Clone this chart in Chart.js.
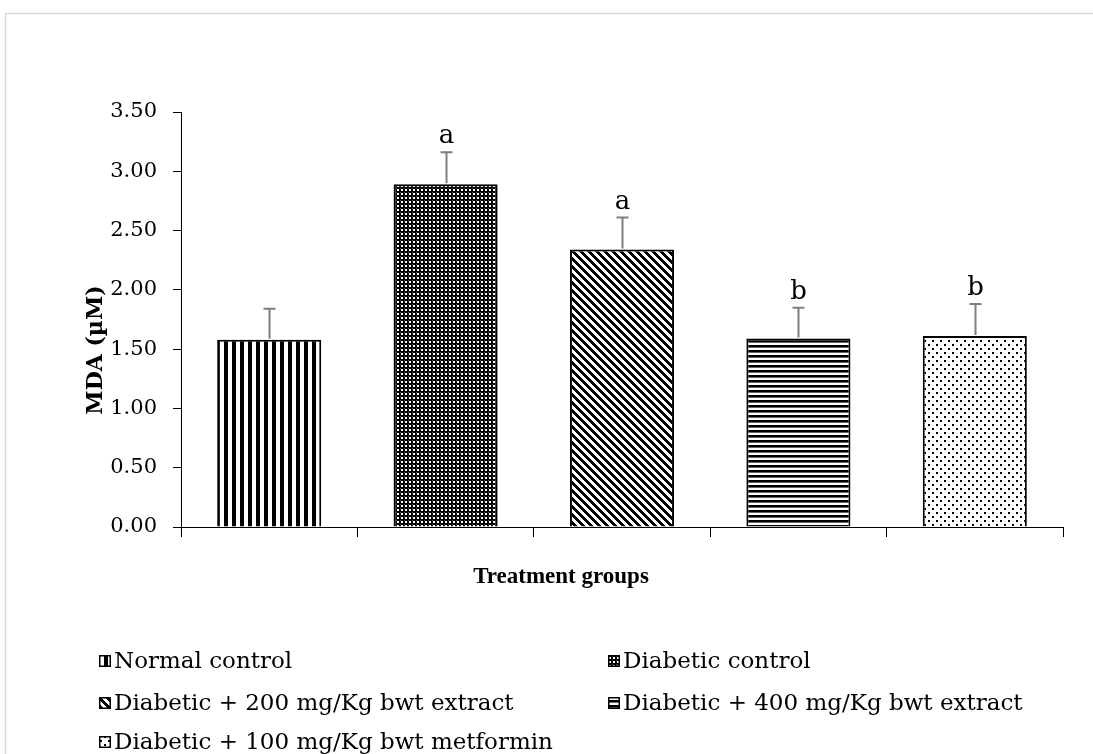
<!DOCTYPE html>
<html>
<head>
<meta charset="utf-8">
<script src="https://cdn.jsdelivr.net/npm/chart.js@4.4.0/dist/chart.umd.min.js"></script>
<style>
  html, body { margin: 0; padding: 0; background: #fff; }
  canvas { display: block; }
</style>
</head>
<body>
<canvas id="chart" width="1093" height="754"></canvas>
<script>
// Treatment groups and MDA readings (µM)
const groups = [
  'Normal control',
  'Diabetic control',
  'Diabetic + 200 mg/Kg bwt extract',
  'Diabetic + 400 mg/Kg bwt extract',
  'Diabetic + 100 mg/Kg bwt metformin'
];
const mdaMeans  = [1.58, 2.89, 2.34, 1.59, 1.61];
const mdaErrors = [0.26, 0.27, 0.27, 0.26, 0.27];
const sigLetters = ['', 'a', 'a', 'b', 'b'];
const yTicks = [0, 0.5, 1.0, 1.5, 2.0, 2.5, 3.0, 3.5];
const fillKinds = ['vertical', 'checker', 'diagonal', 'horizontal', 'dots'];

const SERIF = '"DejaVu Serif", "Liberation Serif", serif';

// Monochrome hatch fills
function makePattern(kind) {
  const c = document.createElement('canvas');
  const g = c.getContext('2d');
  let w = 8, h = 8;
  if (kind === 'vertical')   { w = 8; h = 1; }
  if (kind === 'checker')    { w = 4; h = 4; }
  if (kind === 'horizontal') { w = 1; h = 5; }
  c.width = w; c.height = h;
  g.fillStyle = '#fff';
  g.fillRect(0, 0, w, h);
  g.fillStyle = '#000';
  if (kind === 'vertical') {
    g.fillRect(0, 0, 4, 1);
  } else if (kind === 'checker') {
    g.fillRect(0, 0, 4, 4);
    g.fillStyle = '#fff';
    g.fillRect(1, 1, 2, 2);
    g.fillStyle = '#555';
    g.fillRect(0, 0, 1, 1);
  } else if (kind === 'diagonal') {
    for (let y = 0; y < h; y++)
      for (let x = 0; x < w; x++)
        if ((((x - y) % 8) + 8) % 8 < 4) g.fillRect(x, y, 1, 1);
  } else if (kind === 'horizontal') {
    g.fillRect(0, 0, 1, 2);
    g.fillStyle = '#666';
    g.fillRect(0, 2, 1, 1);
  } else if (kind === 'dots') {
    g.fillRect(0, 0, 2, 2);
    g.fillRect(4, 4, 2, 2);
  }
  return g.createPattern(c, 'repeat');
}

const barFills = fillKinds.map(makePattern);

// Error bars with significance letters
const errorBarPlugin = {
  id: 'errorBars',
  afterDatasetsDraw(chart) {
    const ctx = chart.ctx;
    const yScale = chart.scales.y;
    const meta = chart.getDatasetMeta(0);
    ctx.save();
    meta.data.forEach((bar, i) => {
      const top = yScale.getPixelForValue(mdaMeans[i] + mdaErrors[i]);
      const x = Math.round(bar.x) + 0.5;
      ctx.strokeStyle = '#7f7f7f';
      ctx.lineWidth = 2;
      ctx.beginPath();
      ctx.moveTo(x, bar.y - 1);
      ctx.lineTo(x, top);
      ctx.moveTo(x - 6, top);
      ctx.lineTo(x + 6, top);
      ctx.stroke();
      if (sigLetters[i]) {
        ctx.fillStyle = '#000';
        ctx.font = '26px ' + SERIF;
        ctx.textAlign = 'center';
        ctx.textBaseline = 'alphabetic';
        ctx.fillText(sigLetters[i], x, top - 9);
      }
    });
    ctx.restore();
  }
};

// Axis titles, frame and two-column legend
const decorPlugin = {
  id: 'decor',
  afterDraw(chart) {
    const ctx = chart.ctx;
    ctx.save();

    // outer frame
    ctx.strokeStyle = '#d9d9d9';
    ctx.lineWidth = 1.5;
    ctx.strokeRect(5.5, 13.5, 1200, 1000);

    // y axis title
    ctx.fillStyle = '#000';
    ctx.font = 'bold 22px ' + SERIF;
    ctx.textAlign = 'center';
    ctx.textBaseline = 'middle';
    ctx.save();
    ctx.translate(96, 350);
    ctx.rotate(-Math.PI / 2);
    ctx.fillText('MDA (µM)', 0, 0);
    ctx.restore();

    // x axis title
    ctx.font = 'bold 23px "Liberation Serif", serif';
    ctx.fillText('Treatment groups', 561, 577);

    // legend
    const cols = [99, 608];
    const rows = [661, 703, 742];
    ctx.font = '23px ' + SERIF;
    ctx.textAlign = 'left';
    ctx.textBaseline = 'middle';
    groups.forEach((name, i) => {
      const bx = cols[i % 2];
      const by = rows[Math.floor(i / 2)];
      const s = 12;
      ctx.fillStyle = barFills[i];
      ctx.fillRect(bx, by - s / 2, s, s);
      ctx.strokeStyle = '#000';
      ctx.lineWidth = 1.5;
      ctx.strokeRect(bx + 0.75, by - s / 2 + 0.75, s - 1.5, s - 1.5);
      ctx.fillStyle = '#000';
      ctx.fillText(name, bx + 15, by + 1);
    });
    ctx.restore();
  }
};

new Chart(document.getElementById('chart'), {
  type: 'bar',
  data: {
    labels: groups,
    datasets: [{
      data: mdaMeans,
      backgroundColor: barFills,
      borderColor: '#000',
      borderWidth: 2,
      barPercentage: 0.59,
      categoryPercentage: 1.0
    }]
  },
  options: {
    responsive: false,
    animation: false,
    devicePixelRatio: 1,
    layout: { padding: { top: 112, right: 30, left: 0, bottom: 0 } },
    plugins: {
      legend: { display: false },
      tooltip: { enabled: false }
    },
    scales: {
      x: {
        offset: true,
        grid: {
          display: true,
          offset: true,
          drawOnChartArea: false,
          drawTicks: true,
          tickLength: 10,
          color: '#000',
          lineWidth: 1
        },
        border: { display: true, color: '#000', width: 1 },
        ticks: { display: false },
        afterFit(scale) { scale.height = 227; }
      },
      y: {
        min: 0,
        max: 3.5,
        afterBuildTicks(scale) { scale.ticks = yTicks.map(v => ({ value: v })); },
        ticks: {
          callback: v => Number(v).toFixed(2),
          color: '#000',
          font: { family: SERIF, size: 21 },
          padding: 16
        },
        grid: {
          drawOnChartArea: false,
          drawTicks: true,
          tickLength: 8,
          color: '#000'
        },
        border: { display: true, color: '#000', width: 1 },
        afterFit(scale) { scale.width = 181; }
      }
    }
  },
  plugins: [errorBarPlugin, decorPlugin]
});
</script>
</body>
</html>
